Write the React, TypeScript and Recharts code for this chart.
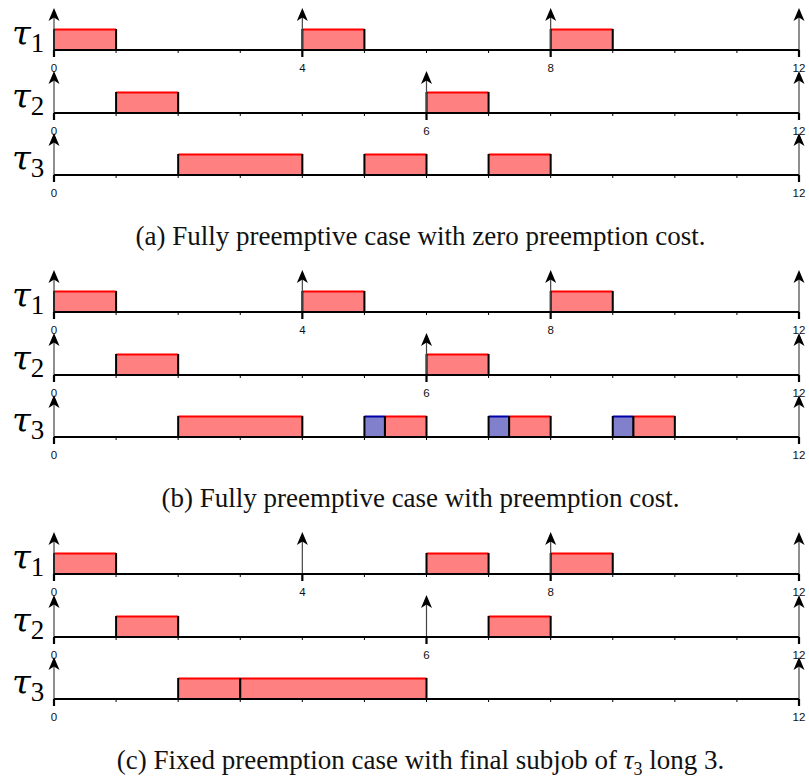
import React from "react";
import { ComposedChart, XAxis, YAxis, ReferenceArea, ReferenceLine, Scatter } from "recharts";

// time axis (one tick per unit)
const timeTicks = [0, 1, 2, 3, 4, 5, 6, 7, 8, 9, 10, 11, 12];

// release instants (arrows) per task
const tau1Releases = [0, 4, 8, 12];
const tau2Releases = [0, 6, 12];
const tau3Releases = [0, 12];

// (a) fully preemptive, zero cost
const tau1JobsA = [[0, 1], [4, 5], [8, 9]];
const tau2JobsA = [[1, 2], [6, 7]];
const tau3JobsA = [[2, 4], [5, 6], [7, 8]];

// (b) fully preemptive, with preemption cost (blue = cost)
const tau1JobsB = [[0, 1], [4, 5], [8, 9]];
const tau2JobsB = [[1, 2], [6, 7]];
const tau3JobsB = [[2, 4], [5.33, 6], [7.33, 8], [9.33, 10]];
const tau3CostB = [[5, 5.33], [7, 7.33], [9, 9.33]];

// (c) fixed preemption points
const tau1JobsC = [[0, 1], [6, 7], [8, 9]];
const tau2JobsC = [[1, 2], [7, 8]];
const tau3JobsC = [[2, 3], [3, 6]];

const RED_FILL = "#ff8080";
const RED_EDGE = "#ff0000";
const BLUE_FILL = "#8080cc";
const BLUE_EDGE = "#0000aa";

const W = 809;
const ROW_H = 90;

function TimeTick(props: any) {
  const { x, y, payload, releases } = props;
  const v = payload.value;
  if (releases.includes(v)) {
    return (
      <g>
        <line x1={x} x2={x} y1={y} y2={y + 7} stroke="#000" strokeWidth={2.2} />
        <text
          x={x}
          y={y + 22}
          textAnchor="middle"
          fontSize={11.5}
          fontFamily='"Liberation Sans", Arial, sans-serif'
          fill="#111"
          stroke="none"
        >
          {v}
        </text>
      </g>
    );
  }
  return <line x1={x} x2={x} y1={y - 1} y2={y + 3} stroke="#000" strokeWidth={1} />;
}

const jobShape = (fill: string, edge: string) => (p: any) => {
  const { x, y, width, height } = p;
  return (
    <g>
      <rect x={x} y={y} width={width} height={height} fill={fill} />
      <line x1={x} x2={x + width} y1={y + 0.5} y2={y + 0.5} stroke={edge} strokeWidth={2} />
      <line x1={x} x2={x} y1={y} y2={y + height} stroke="#000" strokeWidth={2} />
      <line x1={x + width} x2={x + width} y1={y} y2={y + height} stroke="#000" strokeWidth={2} />
      <line x1={x} x2={x + width} y1={y + height} y2={y + height} stroke="#000" strokeWidth={2} />
    </g>
  );
};

function ReleaseArrow(p: any) {
  const { x1, y1, y2 } = p;
  const top = Math.min(y1, y2);
  const bottom = Math.max(y1, y2);
  return (
    <g>
      <line x1={x1} x2={x1} y1={bottom} y2={top + 8} stroke="#444" strokeWidth={1.2} />
      <path
        d={`M${x1},${top} L${x1 - 5.5},${top + 13} L${x1},${top + 9.5} L${x1 + 5.5},${top + 13} Z`}
        fill="#000"
      />
    </g>
  );
}

function TaskRow({
  top,
  index,
  releases,
  jobs,
  costs = [],
}: {
  top: number;
  index: number;
  releases: number[];
  jobs: number[][];
  costs?: number[][];
}) {
  const data = releases.map((t) => ({ t, y: 0 }));
  return (
    <div style={{ position: "absolute", left: 0, top, width: W, height: ROW_H }}>
      <svg
        width={52}
        height={ROW_H}
        style={{ position: "absolute", left: 0, top: 0, overflow: "visible" }}
      >
        <text x={12} y={45} fontFamily='"DejaVu Serif", "Liberation Serif", serif'>
          <tspan fontStyle="italic" fontSize={34}>
            τ
          </tspan>
          <tspan fontSize={27} dy={7} fontFamily='"Liberation Serif", serif'>
            {index}
          </tspan>
        </text>
      </svg>
      <div style={{ position: "absolute", left: 0, top: 0 }}>
        <ComposedChart
          width={W}
          height={ROW_H}
          data={data}
          margin={{ top: 8, right: 10, bottom: 0, left: 54 }}
        >
          <XAxis
            type="number"
            dataKey="t"
            domain={[0, 12]}
            ticks={timeTicks}
            interval={0}
            height={40}
            axisLine={{ stroke: "#000", strokeWidth: 2 }}
            tickLine={false}
            tickSize={0}
            tickMargin={0}
            tick={(tp: any) => <TimeTick {...tp} releases={releases} />}
          />
          <YAxis type="number" dataKey="y" domain={[0, 2]} hide />
          <Scatter dataKey="y" fill="none" shape={() => <g />} isAnimationActive={false} />
          {releases.map((t) => (
            <ReferenceLine key={"r" + t} x={t} shape={ReleaseArrow} ifOverflow="visible" />
          ))}
          {jobs.map(([s, e], i) => (
            <ReferenceArea
              key={"j" + i}
              x1={s}
              x2={e}
              y1={0}
              y2={1}
              ifOverflow="visible"
              shape={jobShape(RED_FILL, RED_EDGE)}
            />
          ))}
          {costs.map(([s, e], i) => (
            <ReferenceArea
              key={"c" + i}
              x1={s}
              x2={e}
              y1={0}
              y2={1}
              ifOverflow="visible"
              shape={jobShape(BLUE_FILL, BLUE_EDGE)}
            />
          ))}
        </ComposedChart>
      </div>
    </div>
  );
}

const captionStyle: React.CSSProperties = {
  position: "absolute",
  left: 16,
  width: W,
  textAlign: "center",
  fontFamily: '"Liberation Serif", "Times New Roman", serif',
  fontSize: 27,
  lineHeight: "28px",
  color: "#111",
};

function Panel({
  top,
  t1,
  t2,
  t3,
  c3,
  caption,
}: {
  top: number;
  t1: number[][];
  t2: number[][];
  t3: number[][];
  c3?: number[][];
  caption: React.ReactNode;
}) {
  return (
    <>
      <TaskRow top={top} index={1} releases={tau1Releases} jobs={t1} />
      <TaskRow top={top + 62.5} index={2} releases={tau2Releases} jobs={t2} />
      <TaskRow top={top + 125} index={3} releases={tau3Releases} jobs={t3} costs={c3} />
      <div style={{ ...captionStyle, top: top + 222 }}>{caption}</div>
    </>
  );
}

export default function App() {
  return (
    <div style={{ position: "relative", width: W, height: 778, background: "#fff", overflow: "hidden" }}>
      <style>{"body{margin:0}"}</style>
      <Panel
        top={0}
        t1={tau1JobsA}
        t2={tau2JobsA}
        t3={tau3JobsA}
        caption="(a) Fully preemptive case with zero preemption cost."
      />
      <Panel
        top={262}
        t1={tau1JobsB}
        t2={tau2JobsB}
        t3={tau3JobsB}
        c3={tau3CostB}
        caption="(b) Fully preemptive case with preemption cost."
      />
      <Panel
        top={524}
        t1={tau1JobsC}
        t2={tau2JobsC}
        t3={tau3JobsC}
        caption={
          <>
            (c) Fixed preemption case with final subjob of <i>τ</i>
            <span style={{ fontSize: 18, position: "relative", top: 6 }}>3</span> long 3.
          </>
        }
      />
    </div>
  );
}
